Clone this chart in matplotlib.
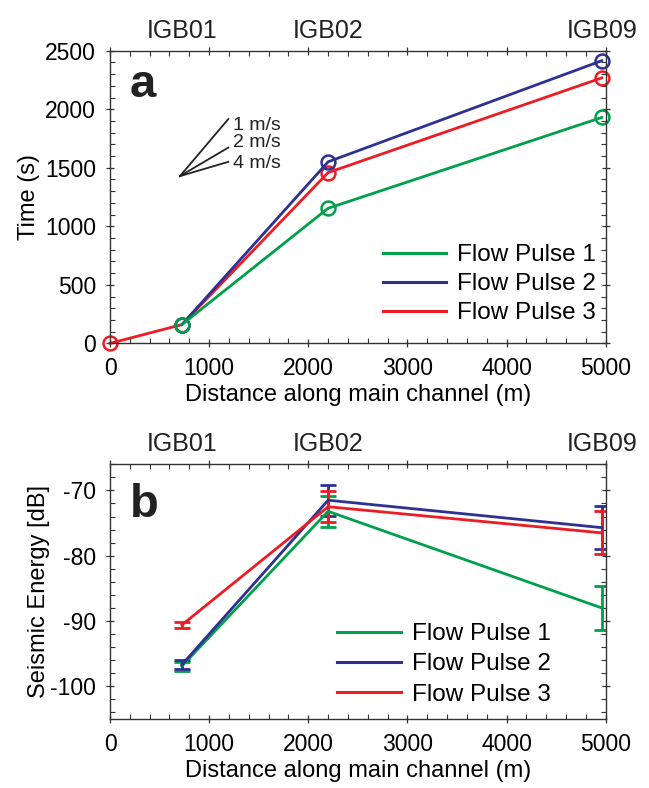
import matplotlib
matplotlib.use("Agg")
import matplotlib.pyplot as plt
from matplotlib.ticker import MultipleLocator

plt.rcParams['font.family'] = ['Liberation Sans', 'DejaVu Sans']
plt.rcParams['axes.unicode_minus'] = False

# station positions along the channel (m)
stations = ['IGB01', 'IGB02', 'IGB09']
station_x = [725, 2200, 4960]

# panel a: arrival time (s)
x_p1 = [725, 2200, 4960]
t_p1 = [160, 1154, 1930]
x_p2 = [725, 2200, 4960]
t_p2 = [160, 1551, 2415]
x_p3 = [0, 725, 2200, 4960]
t_p3 = [0, 160, 1459, 2268]

# panel b: seismic energy (dB) +- error
e_p1 = [-96.9, -73.2, -88.0]
err_p1 = [0.7, 2.4, 3.3]
e_p2 = [-96.7, -71.5, -75.7]
err_p2 = [0.7, 2.35, 3.3]
e_p3 = [-90.6, -72.5, -76.5]
err_p3 = [0.5, 2.4, 3.3]

speeds = [1, 2, 4]   # m/s guide lines
speed_label_y = [1860, 1720, 1538]

labels = ['Flow Pulse 1', 'Flow Pulse 2', 'Flow Pulse 3']
c_green = '#00a04b'
c_blue = '#2e3192'
c_red = '#ed1c24'

fig = plt.figure(figsize=(6.49, 7.88), dpi=100)
ax1 = fig.add_axes([0.1695, 0.5643, 0.7638, 0.3713])
ax2 = fig.add_axes([0.1695, 0.0876, 0.7638, 0.3232])


def style_axes(ax, top_off):
    ax.tick_params(which='both', top=True, right=True, labelsize=16.5, color='#333333')
    ax.tick_params(which='major', direction='inout', length=6, width=0.9, pad=7)
    ax.tick_params(which='minor', direction='in', length=3.5, width=0.8)
    for s in ax.spines.values():
        s.set_linewidth(1.0)
        s.set_color('#333333')
    ax.set_xlim(0, 5000)
    ax.xaxis.set_major_locator(MultipleLocator(1000))
    ax.xaxis.set_minor_locator(MultipleLocator(200))
    ax.set_xlabel('Distance along main channel (m)', fontsize=17, labelpad=3)
    for name, xs in zip(stations, station_x):
        ax.annotate(name, xy=(xs, 1), xycoords=('data', 'axes fraction'),
                    xytext=(0, top_off), textcoords='offset points',
                    ha='center', va='baseline', fontsize=18, color='#222222',
                    annotation_clip=False)


# ---- panel a ----
mk = dict(marker='o', markersize=10, markerfacecolor='none', markeredgewidth=1.8, linewidth=2)
h3, = ax1.plot(x_p3, t_p3, color=c_red, **mk)
h2, = ax1.plot(x_p2, t_p2, color=c_blue, **mk)
h1, = ax1.plot(x_p1, t_p1, color=c_green, **mk)
for h in (h1, h2, h3):
    h.set_clip_on(False)

# velocity guide lines
x0, y0, dx = 706, 1429, 487
for v, ly in zip(speeds, speed_label_y):
    ax1.plot([x0, x0 + dx], [y0, y0 + dx / v], color='#222222', linewidth=1.3)
    ax1.text(x0 + dx + 45, ly, f'{v} m/s', fontsize=14, va='center', ha='left',
             color='#222222')

ax1.set_ylim(0, 2500)
ax1.yaxis.set_major_locator(MultipleLocator(500))
ax1.yaxis.set_minor_locator(MultipleLocator(100))
ax1.set_ylabel('Time (s)', fontsize=17, labelpad=4)
style_axes(ax1, 8.9)
ax1.text(0.04, 0.841, 'a', transform=ax1.transAxes, fontsize=34, fontweight='bold',
         va='baseline', ha='left', color='#222222')
leg1 = ax1.legend([h1, h2, h3], labels, loc='lower right', frameon=False, fontsize=17.5,
                  handlelength=2.6, handletextpad=0.45, labelspacing=0.29,
                  bbox_to_anchor=(1.01, 0.015), borderaxespad=0.2)
for line in leg1.get_lines():
    line.set_marker('')
    line.set_linewidth(2.2)

# ---- panel b ----
eb = dict(linewidth=2, elinewidth=2, capsize=6, capthick=2)
b1 = ax2.errorbar(station_x, e_p1, yerr=err_p1, color=c_green, **eb)
b2 = ax2.errorbar(station_x, e_p2, yerr=err_p2, color=c_blue, **eb)
b3 = ax2.errorbar(station_x, e_p3, yerr=err_p3, color=c_red, **eb)

ax2.set_ylim(-105, -66)
ax2.yaxis.set_major_locator(MultipleLocator(10))
ax2.yaxis.set_minor_locator(MultipleLocator(2))
ax2.set_ylabel('Seismic Energy [dB]', fontsize=17, labelpad=0)
style_axes(ax2, 9.8)
ax2.text(0.04, 0.794, 'b', transform=ax2.transAxes, fontsize=34, fontweight='bold',
         va='baseline', ha='left', color='#222222')
hl = [plt.Line2D([], [], color=c, linewidth=2.2) for c in (c_green, c_blue, c_red)]
ax2.legend(hl, labels, loc='lower right', frameon=False, fontsize=17.5,
           handlelength=2.6, handletextpad=0.45, labelspacing=0.34,
           bbox_to_anchor=(0.918, -0.005), borderaxespad=0.2)

fig.savefig('out.png', dpi=100)
